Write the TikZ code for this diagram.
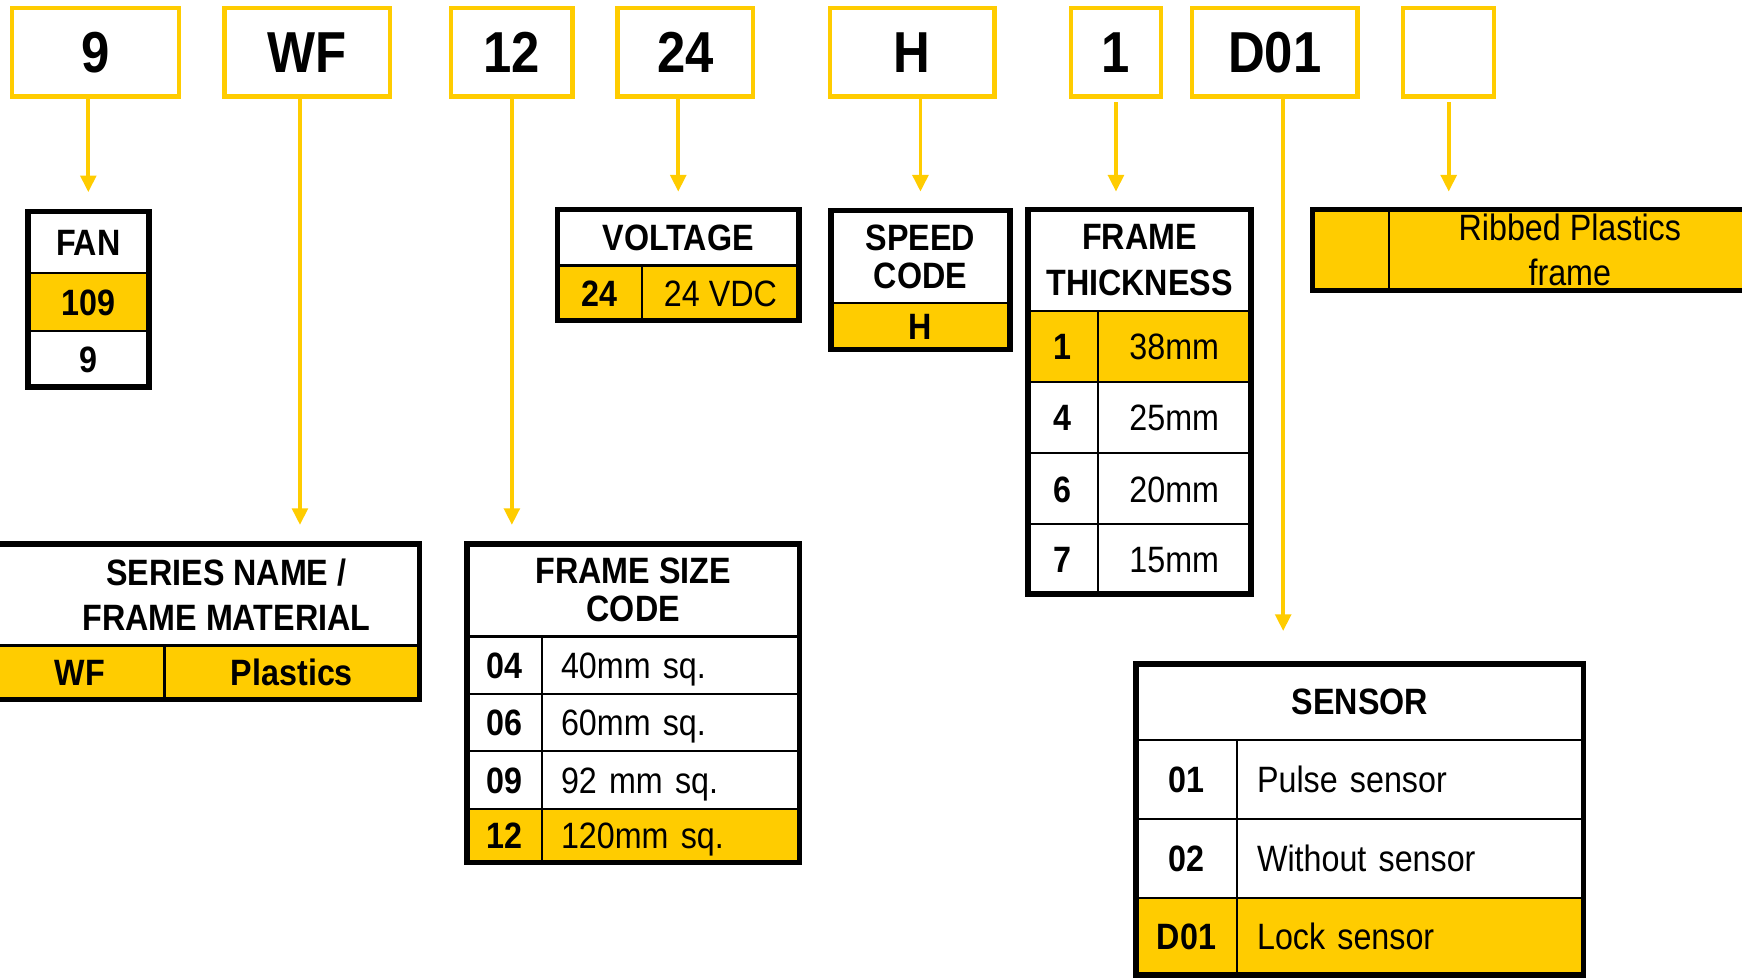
\documentclass[tikz,border=0pt]{standalone}
\usepackage{fontspec}
\setmainfont{Liberation Sans}[FakeStretch=0.88]
\usepackage{tikz}
\usetikzlibrary{arrows.meta,positioning}
\definecolor{codeyellow}{HTML}{FFCC00}

\begin{document}
\begin{tikzpicture}[
  x=1pt, y=1pt,
  node distance=0pt,
  every node/.style={font=\fontsize{33}{41}\selectfont, outer sep=0pt},
  code/.style={draw=codeyellow, line width=4pt, fill=white, minimum height=80pt,
               inner sep=0pt, font=\bfseries\fontsize{52}{52}\selectfont},
  cell/.style={draw, line width=2pt, inner sep=0pt, anchor=north west, align=center},
  head/.style={cell, font=\bfseries\fontsize{33}{41}\selectfont},
  tight/.style={font=\bfseries\fontsize{33}{34.5}\selectfont},
  row/.style={cell, text height=23.8pt, text depth=0pt},
  key/.style={row, font=\bfseries\fontsize{33}{41}\selectfont},
  val/.style={row},
  lval/.style={val, align=left, inner xsep=#1},
  hl/.style={fill=codeyellow},
  frame/.style={draw, line width=5pt},
  arr/.style={codeyellow, line width=3.5pt, -{Triangle[length=15pt,width=14pt]}},
]
  \useasboundingbox (0,0) rectangle (1568,-880);
  \clip (0,0) rectangle (1568,-880);

  % part number boxes
  \node[code, minimum width=150pt] (b9) at (86,-47) {9};
  \node[code, minimum width=149pt, right=41pt of b9] (bwf) {WF};
  \node[code, minimum width=109.5pt, right=55pt of bwf] (b12) {12};
  \node[code, minimum width=122pt, right=40.5pt of b12] (b24) {24};
  \node[code, minimum width=148pt, right=69pt of b24] (bH) {H};
  \node[code, minimum width=81pt, right=69pt of bH] (b1) {1};
  \node[code, minimum width=149pt, right=28pt of b1] (bD) {D01};
  \node[code, minimum width=82pt, right=41pt of bD] (bx) {};

  % fan
  \node[head, minimum width=109pt, minimum height=55.5pt] (fanh) at (25,-190.5) {FAN};
  \node[key, hl, minimum width=109pt, minimum height=52pt, below=of fanh] (fan109) {109};
  \node[key, minimum width=109pt, minimum height=50.5pt, below=of fan109] (fan9) {9};
  \draw[frame] (fanh.north west) rectangle (fan9.south east);

  % voltage
  \node[head, minimum width=217pt, minimum height=50.5pt] (volh) at (502,-188.5) {VOLTAGE};
  \node[key, hl, minimum width=76pt, minimum height=49.5pt] (v24) at (volh.south west) {24};
  \node[val, hl, minimum width=141pt, minimum height=49.5pt, right=of v24] (v24v) {24 VDC};
  \draw[frame] (volh.north west) rectangle (v24v.south east);

  % speed code
  \node[head, tight, minimum width=161pt, minimum height=83.5pt] (spdh) at (748,-189.5) {SPEED\\CODE};
  \node[key, hl, minimum width=161pt, minimum height=41.5pt, below=of spdh] (spdH) {H};
  \draw[frame] (spdh.north west) rectangle (spdH.south east);

  % frame thickness
  \node[head, minimum width=200.5pt, minimum height=91.5pt] (thkh) at (925.5,-188.5) {FRAME\\THICKNESS};
  \node[key, hl, minimum width=62.5pt, minimum height=64pt] (t1) at (thkh.south west) {1};
  \node[val, hl, minimum width=138pt, minimum height=64pt, right=of t1] (t1v) {38mm};
  \node[key, minimum width=62.5pt, minimum height=64pt, below=of t1] (t4) {4};
  \node[val, minimum width=138pt, minimum height=64pt, right=of t4] (t4v) {25mm};
  \node[key, minimum width=62.5pt, minimum height=64pt, below=of t4] (t6) {6};
  \node[val, minimum width=138pt, minimum height=64pt, right=of t6] (t6v) {20mm};
  \node[key, minimum width=62.5pt, minimum height=62.5pt, below=of t6] (t7) {7};
  \node[val, minimum width=138pt, minimum height=62.5pt, right=of t7] (t7v) {15mm};
  \draw[frame] (thkh.north west) rectangle (t7v.south east);

  % frame option
  \node[key, hl, minimum width=68.5pt, minimum height=73pt] (ribk) at (1181.5,-188.5) {};
  \node[cell, hl, minimum width=326pt, minimum height=73pt, right=of ribk] (ribv) {Ribbed Plastics\\frame};
  \draw[frame] (ribk.north west) rectangle (ribv.south east);

  % series name
  \node[head, minimum width=381.5pt, minimum height=91.5pt] (serh) at (-4,-489.5)
    {\hspace*{34pt}SERIES NAME /\\\hspace*{34pt}FRAME MATERIAL};
  \node[key, hl, minimum width=152pt, minimum height=48.5pt] (swf) at (serh.south west) {WF};
  \node[key, hl, minimum width=229.5pt, minimum height=48.5pt, right=of swf] (swfv) {Plastics};
  \draw[frame] (serh.north west) rectangle (swfv.south east);

  % frame size
  \node[head, tight, minimum width=299pt, minimum height=83.5pt] (fsh) at (420.5,-489.5) {FRAME SIZE\\CODE};
  \node[key, minimum width=67.5pt, minimum height=52pt] (f04) at (fsh.south west) {04};
  \node[lval=17pt, text width=197.5pt, minimum width=231.5pt, minimum height=52pt, right=of f04] (f04v) {40mm sq.};
  \node[key, minimum width=67.5pt, minimum height=51pt, below=of f04] (f06) {06};
  \node[lval=17pt, text width=197.5pt, minimum width=231.5pt, minimum height=51pt, right=of f06] (f06v) {60mm sq.};
  \node[key, minimum width=67.5pt, minimum height=52pt, below=of f06] (f09) {09};
  \node[lval=17pt, text width=197.5pt, minimum width=231.5pt, minimum height=52pt, right=of f09] (f09v) {92 mm sq.};
  \node[key, hl, minimum width=67.5pt, minimum height=48.5pt, below=of f09] (f12) {12};
  \node[lval=17pt, hl, text width=197.5pt, minimum width=231.5pt, minimum height=48.5pt, right=of f12] (f12v) {120mm sq.};
  \draw[frame] (fsh.north west) rectangle (f12v.south east);

  % sensor
  \node[head, minimum width=403pt, minimum height=68.5pt] (sensh) at (1022.5,-597.5) {SENSOR};
  \node[key, minimum width=91pt, minimum height=71pt] (s01) at (sensh.south west) {01};
  \node[lval=18pt, text width=276pt, minimum width=312pt, minimum height=71pt, right=of s01] (s01v) {Pulse sensor};
  \node[key, minimum width=91pt, minimum height=71pt, below=of s01] (s02) {02};
  \node[lval=18pt, text width=276pt, minimum width=312pt, minimum height=71pt, right=of s02] (s02v) {Without sensor};
  \node[key, hl, minimum width=91pt, minimum height=69.5pt, below=of s02] (sD01) {D01};
  \node[lval=18pt, hl, text width=276pt, minimum width=312pt, minimum height=69.5pt, right=of sD01] (sD01v) {Lock sensor};
  \draw[frame] (sensh.north west) rectangle (sD01v.south east);

  % arrows
  \draw[arr, shorten >=17.5pt] (b9.south -| fanh.north) -- (fanh.north);
  \draw[arr, shorten >=17pt] ([xshift=-6.5pt]bwf.south) -- ([xshift=-6.5pt]bwf.south |- serh.north);
  \draw[arr, shorten >=17pt] (b12.south) -- (b12.south |- fsh.north);
  \draw[arr, shorten >=16pt] (b24.south -| volh.north) -- (volh.north);
  \draw[arr, shorten >=17pt] (bH.south -| spdh.north) -- (spdh.north);
  \draw[arr, shorten <=5pt, shorten >=16pt] (b1.south) -- (b1.south |- thkh.north);
  \draw[arr, shorten >=29.5pt] ([xshift=7.5pt]bD.south) -- ([xshift=7.5pt]bD.south |- sensh.north);
  \draw[arr, shorten <=5pt, shorten >=16pt] (bx.south) -- (bx.south |- ribk.north);
\end{tikzpicture}
\end{document}
